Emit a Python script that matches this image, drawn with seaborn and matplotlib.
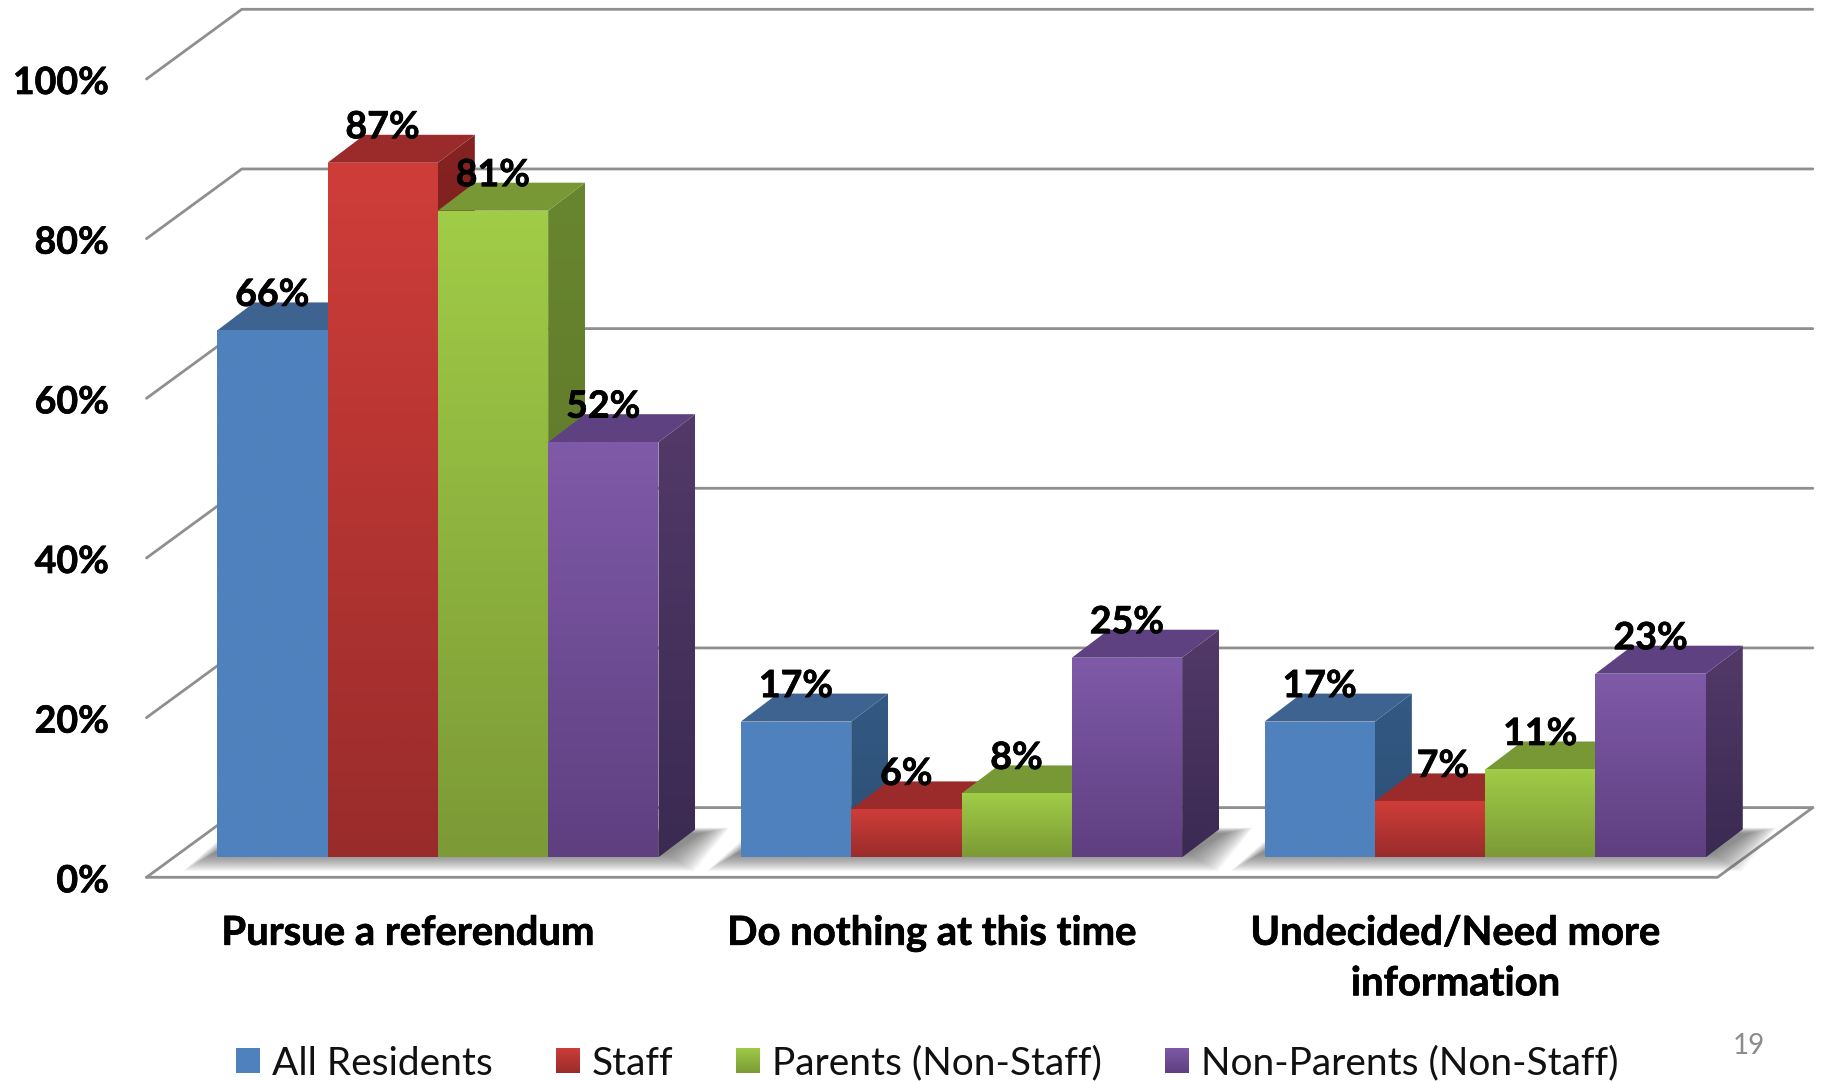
import numpy as np
import pandas as pd
import matplotlib
matplotlib.use("Agg")
import matplotlib.pyplot as plt
import matplotlib.patheffects as pe
from matplotlib.colors import to_rgb
from matplotlib.patches import Polygon
from matplotlib.ticker import FuncFormatter
from matplotlib.transforms import Affine2D, IdentityTransform
import seaborn as sns

categories = ["Pursue a referendum", "Do nothing at this time", "Undecided/Need more\ninformation"]
series_names = ["All Residents", "Staff", "Parents (Non-Staff)", "Non-Parents (Non-Staff)"]
all_residents = [66, 17, 17]
staff = [87, 6, 7]
parents = [81, 8, 11]
non_parents = [52, 25, 23]
y_ticks = [0, 20, 40, 60, 80, 100]

# face top, face bottom, lid, side top, side bottom
STYLE = {
    "All Residents": ("#4F81BD", "#4F81BD", "#3E6390", "#335A84", "#2D4E74"),
    "Staff": ("#CF3D39", "#992C2B", "#9A2B2A", "#842321", "#6F1D1C"),
    "Parents (Non-Staff)": ("#A0CC47", "#7C9A36", "#789835", "#68852F", "#5A7328"),
    "Non-Parents (Non-Staff)": ("#7F5AA8", "#5F3F80", "#5E4180", "#523969", "#3B2A52"),
}
W, H = 1822, 1081
AX_L, AX_R, AX_Y0, AX_Y100 = 146.5, 1717.5, 877.3, 79.0
WALL_DX, WALL_DY = 95.3, 69.7
BAR_DX, BAR_DY = 29.5, 20.0
LID_DX, LID_DY = 37.0, 28.0
GRID = "#8F8F8F"
HEAVY = [pe.withStroke(linewidth=0.5, foreground="black")]

sns.set_theme(style="white")
plt.rcParams["font.family"] = ["Lato", "DejaVu Sans"]

frame = pd.DataFrame({
    "category": np.tile(categories, 4),
    "series": np.repeat(series_names, 3),
    "value": all_residents + staff + parents + non_parents,
})

fig = plt.figure(figsize=(W / 100, H / 100), dpi=100, facecolor="white")
ax = fig.add_axes([AX_L / W, 1 - AX_Y0 / H, (AX_R - AX_L) / W, (AX_Y0 - AX_Y100) / H])
palette = {k: v[0] for k, v in STYLE.items()}
sns.barplot(data=frame, x="category", y="value", hue="series", order=categories,
            hue_order=series_names, palette=palette, width=0.8426, saturation=1,
            gap=0, errorbar=None, ax=ax, legend=True)
ax.set_xlim(-0.5, 2.5)
ax.set_ylim(0, 100)
ax.set_xlabel("")
ax.set_ylabel("")
sns.despine(ax=ax, left=True, bottom=True, top=True, right=True)
ax.patch.set_visible(False)
ax.set_yticks(y_ticks)
ax.yaxis.set_major_formatter(FuncFormatter(lambda v, _: f"{v:.0f}%"))
ax.tick_params(axis="y", length=0, pad=27, labelsize=27, labelcolor="black")
ax.tick_params(axis="x", length=0, pad=27, labelsize=28.8, labelcolor="black")
for t in ax.get_yticklabels():
    t.set_fontweight("bold")
    t.set_path_effects(HEAVY)
    t.set_transform(t.get_transform() + Affine2D().translate(0, -1))
for t in ax.get_xticklabels():
    t.set_fontweight("bold")
    t.set_linespacing(1.45)
    t.set_path_effects(HEAVY)

to_px = ax.transData.transform
wall = dict(color=GRID, lw=2.0, transform=IdentityTransform(), clip_on=False,
            zorder=1, solid_capstyle="round", solid_joinstyle="round")
x0, x1 = -0.5, 2.5
for v in y_ticks:
    a = to_px((x0, v))
    b = a + (WALL_DX, WALL_DY)
    c = to_px((x1, v)) + (WALL_DX, WALL_DY)
    ax.plot([a[0], b[0], c[0]], [a[1], b[1], c[1]], **wall)
a, d = to_px((x0, 0)), to_px((x1, 0))
ax.plot([a[0], d[0], d[0] + WALL_DX], [a[1], d[1], d[1] + WALL_DY], **wall)


def gradient(pts, top, bottom, z):
    pts = np.asarray(pts, float)
    rows = np.linspace(np.array(to_rgb(top)), np.array(to_rgb(bottom)), 64)[:, None, :]
    l, b = pts.min(axis=0)
    r, t = pts.max(axis=0)
    im = ax.imshow(rows, extent=(l, r, b, t), origin="upper", aspect="auto",
                   interpolation="bilinear", transform=IdentityTransform(), zorder=z)
    im.set_clip_box(fig.bbox)
    im.set_clip_path(Polygon(pts, closed=True, transform=IdentityTransform()))


def poly(pts, color, z, alpha=None):
    ax.add_patch(Polygon(pts, closed=True, fc=color, ec="none", alpha=alpha,
                         transform=IdentityTransform(), clip_on=False, zorder=z))


shift = Affine2D().translate(BAR_DX, BAR_DY)
bar_trans = ax.transData + shift
label_nudge = {(2, 1): 13}
z = 5.0
for g in range(len(categories)):
    # soft floor shadow under the whole group
    group = [c[g] for c in ax.containers]
    left = to_px((group[0].get_x(), 0)) + (BAR_DX, BAR_DY)
    right = to_px((group[-1].get_x() + group[-1].get_width(), 0)) + (BAR_DX, BAR_DY)
    for spread in np.linspace(28, 0, 28):
        poly([(left[0] - 6 - spread, left[1] + 3 - spread * 0.6),
              (right[0] + 8 + spread, right[1] + 3 - spread * 0.6),
              (right[0] + LID_DX + 6 + spread, right[1] + LID_DY - 4 + spread * 0.2),
              (left[0] + LID_DX - 8 - spread * 0.5, left[1] + LID_DY - 4 + spread * 0.2)],
             "#505050", 2, alpha=0.032)
    for i, (name, bar) in enumerate(zip(series_names, group)):
        style = STYLE[name]
        xl, xr = bar.get_x(), bar.get_x() + bar.get_width()
        val = bar.get_height()
        bl = to_px((xl, 0)) + (BAR_DX, BAR_DY)
        br = to_px((xr, 0)) + (BAR_DX, BAR_DY)
        tl = to_px((xl, val)) + (BAR_DX, BAR_DY)
        tr = to_px((xr, val)) + (BAR_DX, BAR_DY)
        depth = np.array([LID_DX, LID_DY])
        gradient([br, br + depth, tr + depth, tr], style[3], style[4], z)
        poly([tl, tr, tr + depth, tl + depth], style[2], z + 0.1)
        bar.set_transform(bar_trans)
        bar.set_clip_on(False)
        bar.set_edgecolor("none")
        bar.set_zorder(z + 0.2)
        gradient([bl, br, tr, tl], style[0], style[1], z + 0.3)
        nudge = label_nudge.get((g, i), 0)
        ax.text((xl + xr) / 2, val, f"{val:.0f}%",
                transform=ax.transData + Affine2D().translate(BAR_DX + nudge, BAR_DY + 35.5),
                ha="center", va="center", fontsize=27, fontweight="bold",
                color="black", zorder=50, clip_on=False, path_effects=HEAVY)
        z += 1

sns.move_legend(ax, "center", bbox_to_anchor=(798 / 1568, 1 - 915 / 930),
                bbox_transform=fig.transFigure, ncol=4, title=None, frameon=False,
                fontsize=28, handlelength=0.62, handleheight=0.62, handletextpad=0.3,
                columnspacing=1.62, labelcolor="#111111")
fig.text(1749 / W, 1 - 1046 / H, "19", fontsize=20, color="#8C8C8C", ha="center", va="center")

fig.canvas.draw()
for name, handle in zip(series_names, ax.get_legend().get_patches()):
    box = handle.get_window_extent()
    gradient([(box.x0, box.y0), (box.x1, box.y0), (box.x1, box.y1), (box.x0, box.y1)],
             STYLE[name][0], STYLE[name][1], 60)

ax.set_xlim(-0.5, 2.5)
ax.set_ylim(0, 100)
fig.savefig("out.png", dpi=100, facecolor="white")
